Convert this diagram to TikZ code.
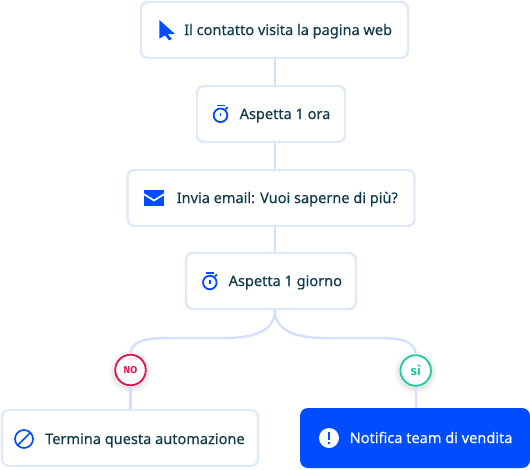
\documentclass[tikz,border=0pt]{standalone}
\usepackage{fontspec}
\setmainfont{Noto Sans}
\newfontfamily\labelfont[FakeBold=0.25]{Noto Sans}
\newfontfamily\badgefont{Fira Sans}
\usetikzlibrary{calc}
\definecolor{edgeblue}{HTML}{E0E9FC}
\definecolor{linkblue}{HTML}{D3E0FD}
\definecolor{brandblue}{HTML}{004CFF}
\definecolor{inkdark}{HTML}{0F3B4C}
\definecolor{nored}{HTML}{E3134F}
\definecolor{sigreen}{HTML}{1FCB9F}
\tikzset{
  x=1pt,y=-1pt,
  flowbox/.style={draw=edgeblue,line width=2.4pt,rounded corners=7pt,fill=white,inner sep=0pt},
  link/.style={draw=linkblue,line width=2.4pt},
  label/.style={inner sep=0pt,anchor=base west,text=inkdark,font=\labelfont\fontsize{14.55}{16}\selectfont},
  badge/.style={circle,draw=#1,line width=1.8pt,fill=white,minimum size=30.5pt,inner sep=0pt,text=#1},
  icon/.style={line width=1.8pt,draw=brandblue},
}
\newcommand{\stopwatch}[2]{%
  \draw[icon] (#1,#2) circle (6.8);
  \draw[icon,line width=1.8pt] (#1-4,#2-9.8) -- (#1+4,#2-9.8);
  \draw[icon] (#1+5,#2-6) -- (#1+7.2,#2-8.2);
  \draw[icon,line width=1.7pt] (#1,#2-2.6) -- (#1,#2+1);
}
\begin{document}
\begin{tikzpicture}
\useasboundingbox (0,0) rectangle (530,469);
\fill[white] (0,0) rectangle (530,469);
% boxes
\node[flowbox,minimum width=267pt,minimum height=56pt] (visit) at (274.5,30) {};
\node[flowbox,minimum width=148pt,minimum height=56pt] (waitone) at (271,114) {};
\node[flowbox,minimum width=287pt,minimum height=56pt] (mail) at (271,198) {};
\node[flowbox,minimum width=170pt,minimum height=56pt] (waitday) at (271,281) {};
\node[flowbox,minimum width=256pt,minimum height=56pt] (endauto) at (130,438) {};
\node[draw=none,fill=brandblue,rounded corners=8pt,minimum width=230pt,minimum height=60pt,inner sep=0pt] (notify) at (415,438) {};
% branch points
\coordinate (a) at (275,59);
\coordinate (b) at (275,85);
\coordinate (c) at (275,143);
\coordinate (d) at (275,169);
\coordinate (e) at (275,227);
\coordinate (f) at (275,252);
\coordinate (g) at (275,310);
% connectors
\draw[link] (a) -- (b);
\draw[link] (c) -- (d);
\draw[link] (e) -- (f);
% soft shadows under the badges
\foreach \r/\o in {22/0.012,21/0.012,20/0.014,19/0.016,18/0.018,17/0.02}{
  \fill[black,opacity=\o] (130.5,372) circle (\r);
  \fill[black,opacity=\o] (415.7,372.5) circle (\r);
}
\node[badge=nored,font=\badgefont\bfseries\fontsize{10}{11}\selectfont] (no) at (130.5,370) {NO};
\node[badge=sigreen,font=\badgefont\bfseries\fontsize{13}{12}\selectfont] (si) at (415.7,370.5) {sì};
\draw[link] (g) .. controls (275,331) and (296,338) .. (325,338) -- (381,338) .. controls (402,338) and (415.7,342) .. (si.north);
\draw[link] (g) .. controls (275,331) and (254,338) .. (225,338) -- (166,338) .. controls (145,338) and (130.5,342) .. (no.north);
\coordinate (n2) at (130.5,409);
\coordinate (s2) at (415.7,408);
\draw[link] (no.south) -- (n2);
\draw[link] (si.south) -- (s2);
% texts
\node[label] (t1) at (184,35) {Il contatto visita la pagina web};
\node[label] (t2) at (239.5,119) {Aspetta 1 ora};
\node[label] (t3) at (176.5,203) {Invia email: Vuoi saperne di più?};
\node[label] (t4) at (228.5,286) {Aspetta 1 giorno};
\node[label] (t5) at (45,444) {Termina questa automazione};
\node[label,text=white] (t6) at (349.5,443) {Notifica team di vendita};
% icons
\fill[brandblue] (159.3,20) -- (175,34) -- (167.6,34.2) -- (171.8,38.8) -- (169.2,40.4) -- (165,35.4) -- (159.5,38.5) -- cycle;
\stopwatch{220.5}{115.3}
\stopwatch{209.8}{282.5}
\fill[brandblue] (144,190) -- (164,190) -- (164,206) -- (144,206) -- cycle;
\draw[white,line width=1.7pt] (143.5,194) -- (154,200.5) -- (164.5,194);
\draw[icon,line width=1.7pt] (24,439) circle (9);
\draw[icon,line width=1.7pt] (17.8,445.2) -- (30.2,432.8);
\fill[white] (329,438) circle (10);
\fill[brandblue] (327.9,431.5) rectangle (330.1,440);
\fill[brandblue] (329,443) circle (1.4);
\end{tikzpicture}
\end{document}
